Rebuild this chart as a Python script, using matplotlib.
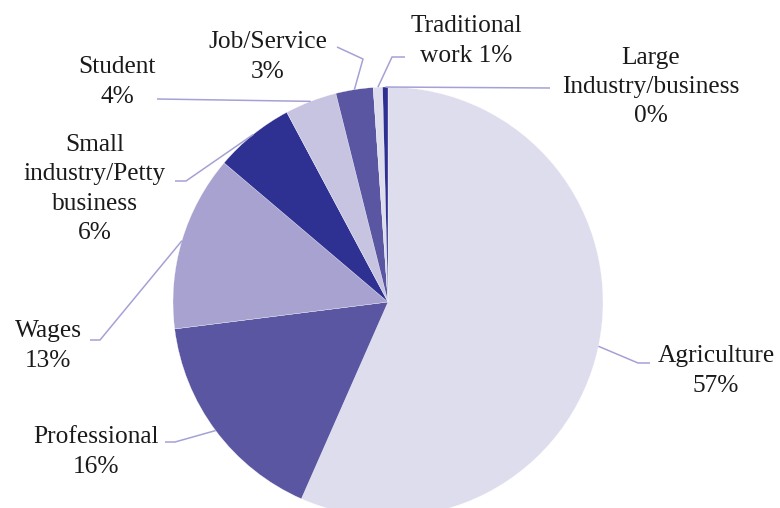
import numpy as np
import matplotlib
matplotlib.use("Agg")
import matplotlib.pyplot as plt

plt.rcParams['font.family'] = ['Liberation Serif', 'DejaVu Serif']

# occupation shares (%), clockwise from 12 o'clock
occupations = ['Agriculture', 'Professional', 'Wages',
               'Small\nindustry/Petty\nbusiness', 'Student', 'Job/Service',
               'Traditional\nwork', 'Large\nIndustry/business']
shares = [56.6, 16.4, 13.2, 6.0, 3.9, 2.8, 0.7, 0.4]
colors = ['#dedded', '#5a56a2', '#a7a2cf', '#2e3192',
          '#c7c4e1', '#5a56a2', '#dedded', '#2e3192']

# label centre and leader elbow points, in pixel space (y down)
label_xy = [(716, 371), (96, 452), (48, 346), (95, 189),
            (117, 82), (268, 57), (466, 41), (651, 87)]
elbows = [[(638, 363), (650, 363)],
          [(175, 442), (165, 442)],
          [(100, 340), (90, 340)],
          [(186, 181), (175, 181)],
          [(157, 99)],
          [(363, 59), (337, 47)],
          [(392, 57), (405, 57)],
          [(550, 88)]]
# labels whose percentage sits on the same line as the last word
inline_pct = {'Traditional\nwork'}

cx, cy, r = 388, 302, 215

fig = plt.figure(figsize=(7.8, 5.08), dpi=100)
ax = fig.add_axes([0, 0, 1, 1])

wedges, _ = ax.pie(shares, colors=colors, startangle=-90, counterclock=True,
                   center=(cx, cy), radius=r,
                   wedgeprops=dict(edgecolor='white', linewidth=0.2))
ax.set_xlim(0, 780)
ax.set_ylim(508, 0)
ax.set_aspect('equal')
ax.axis('off')

for w, name, val, (tx, ty), pts in zip(wedges, occupations, shares, label_xy, elbows):
    mid = np.deg2rad((w.theta1 + w.theta2) / 2)
    x0 = cx + r * np.cos(mid)
    y0 = cy + r * np.sin(mid)
    xs = [x0] + [p[0] for p in pts]
    ys = [y0] + [p[1] for p in pts]
    ax.plot(xs, ys, color='#a5a1d6', lw=1.1, solid_capstyle='butt')
    sep = ' ' if name in inline_pct else '\n'
    ax.text(tx, ty, f'{name}{sep}{val:.0f}%', ha='center', va='center',
            multialignment='center', fontsize=18.3, linespacing=1.42,
            color='#1a1a1a')

fig.savefig('out.png', dpi=100)
